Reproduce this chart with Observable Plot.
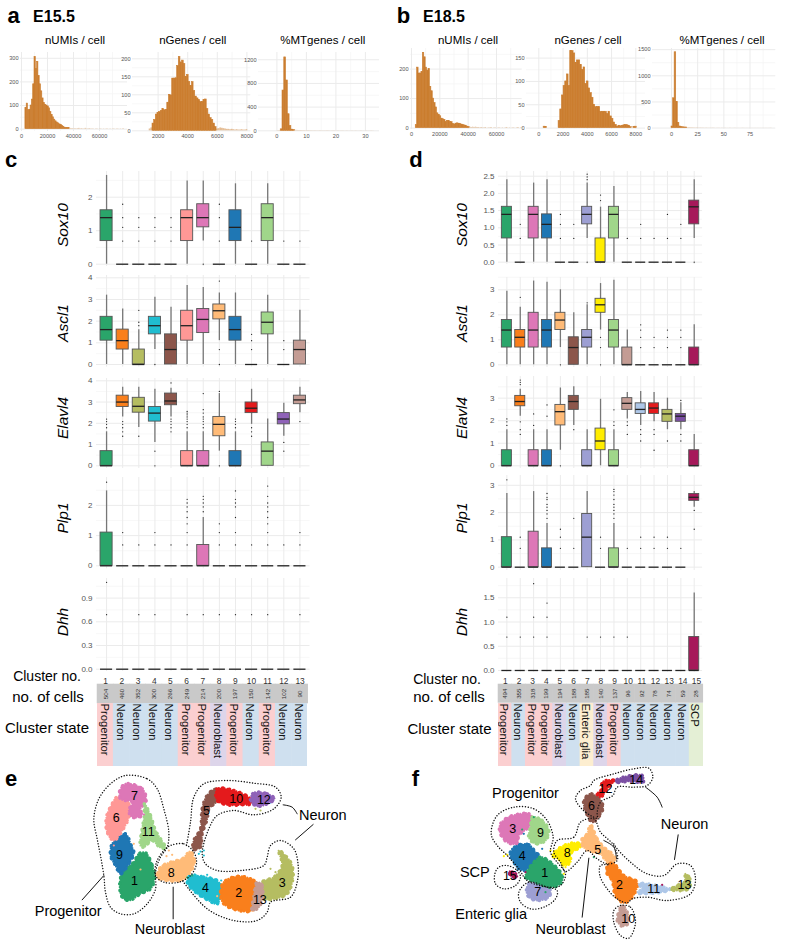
<!DOCTYPE html>
<html><head><meta charset="utf-8">
<script src="https://cdn.jsdelivr.net/npm/d3@7"></script>
<script src="https://cdn.jsdelivr.net/npm/@observablehq/plot@0.6"></script>
<style>
html,body{margin:0;padding:0;background:#fff}
#page{position:relative;width:800px;height:946px;overflow:hidden;font-family:"Liberation Sans",Arial,sans-serif;color:#000}
#page svg{position:absolute;background:transparent}
.lbl{position:absolute;white-space:nowrap;line-height:1}
</style></head><body><div id="page"></div>
<script>
// ---------- histogram values (panels a, b) ----------
const aUMI=[90,108,80,82,100,125,190,305,255,285,225,190,160,130,110,102,100,96,88,72,60,50,40,33,28,24,20,17,14,10,6,4,4,5,3,2,2,1,2,1,2,3,1,2,1,1,3,1,1,2,1,1,1,0,1,1,0,1,1,0,1,0,1,1,0,1,0,1,1,0,1,1,0,1,0,2];
const aGene=[5,8,20,30,45,50,52,55,60,57,58,78,100,98,145,145,146,180,205,190,195,185,150,155,135,125,135,110,95,90,85,80,80,85,87,60,45,35,30,20,10,5,6,8,7,6,5,4,4,3,4,3,2,3,2,2,3,2,2,3];
const aMT=[3,5,25,680,1240,850,280,80,20,15,8,6,5,5,4,4,3,4,3,3,2,3,2,2,3,2,2,2,3,2,1,2,2,1,2,1,2,2,1,2,1,1,2,1,2,1,1,2,1,1,2,1,1,2,1];
const bUMI=[10,205,185,185,190,255,240,205,195,200,140,125,100,85,70,50,45,40,32,30,28,20,24,24,20,20,14,12,15,16,15,14,12,10,9,8,5,4,3,2,3,2,3,2,2,1,2,1,1,2,0,1,1,2,0,1,1,0,1,1,0,1,0,1,2,0,1,0,1,1,0,1,2,0,1,1];
const bGene=[3,2,0,0,0,0,0,0,0,15,40,70,90,100,115,90,165,165,160,140,145,145,135,125,130,95,100,85,75,65,50,45,45,45,35,35,35,35,30,35,25,20,12,7,3,5,4,5,6,7,6,5,2,0,2,3,0];
const bMT=[30,570,1450,500,100,30,20,15,12,10,8,8,6,6,5,4,5,3,4,3,3,2,3,2,2,2,3,2,1,2,2,1,2,1,2,1,1,2,1,1,2,1,1,1,1,2,1,1,1,1,1,1,1,1,1,1,1,1,1,1,1,1,1,2];

// ---------- cluster tables ----------
const cCluster=[1,2,3,4,5,6,7,8,9,10,11,12,13];
const cCells=[504,460,352,300,266,249,214,200,197,150,142,102,90];
const cState=["Progenitor","Neuron","Neuron","Neuron","Neuron","Progenitor","Progenitor","Neuroblast","Progenitor","Neuron","Progenitor","Neuron","Neuron"];
const cColors=["#2aa56a","#f97f1c","#b5bd61","#20bdd0","#8c564b","#ff9896","#dd77b7","#ffbb78","#1f77b4","#e41a1c","#a0d68a","#8f62b8","#c49c94"];
const dCluster=[1,2,3,4,5,6,7,8,9,10,11,12,13,14,15];
const dCells=[494,355,318,199,194,188,185,140,137,96,92,78,74,59,28];
const dState=["Progenitor","Neuron","Progenitor","Progenitor","Neuroblast","Neuron","Enteric glia","Neuroblast","Progenitor","Neuron","Neuron","Neuron","Neuron","Neuron","SCP"];
const dColors=["#2aa56a","#f97f1c","#dd77b7","#1f77b4","#ffbb78","#8c564b","#9d9fd3","#ffed00","#a0d68a","#c49c94","#aec7e8","#e41a1c","#b5bd61","#7b4fa3","#a6195a"];
const stateFill={Progenitor:"#fbcfd0",Neuron:"#cfe0ef",Neuroblast:"#ddd5ea","Enteric glia":"#fdeed0",SCP:"#e4efd5"};

// ---------- box statistics: [low whisker, q1, median, q3, high whisker, [outliers]] ----------
const Z=[0,0,0,0,0];
const cSox10=[[0,.69,1.39,1.61,2.65,[]],[...Z,[.69,1.1,1.39,1.79]],[...Z,[.69,1.1,1.39]],[...Z,[.69,1.1,1.39]],[...Z,[.69,1.1,1.39]],[0,.69,1.39,1.61,2.48,[]],[.69,1.1,1.39,1.79,2.48,[0]],[...Z,[.69,1.39,1.79]],[0,.69,1.1,1.61,2.4,[]],[...Z,[.69]],[0,.69,1.39,1.79,2.4,[]],[...Z,[.69]],[...Z,[.69]]];
const cAscl1=[[0,1.1,1.61,2.2,3.2,[]],[0,.69,1.1,1.61,2.56,[]],[0,0,0,.69,1.6,[1.79,1.95,2.5]],[.69,1.39,1.79,2.2,3.1,[0]],[0,0,.69,1.39,2.64,[]],[0,1.1,1.79,2.48,3.64,[]],[0,1.45,2.08,2.56,3.55,[]],[1.1,2.08,2.48,2.77,3.3,[0,.69,3.85]],[0,1.1,1.61,2.2,3.3,[]],[...Z,[.69,1.1,1.39]],[0,1.39,1.95,2.4,3.2,[]],[...Z,[.69,1.1]],[0,0,.69,1.1,2.5,[]]];
const cElavl4=[[0,0,0,.69,1.6,[1.79,1.95,2.08,2.2]],[2.3,2.77,3,3.3,3.7,[1.39,1.6,1.79,1.95,2.08]],[1.8,2.5,2.8,3.2,3.7,[1.39]],[1.1,2.08,2.48,2.77,3.6,[0,.69]],[2.3,2.85,3.05,3.4,3.65,[1.6,1.79,1.95,2.08,2.2,3.9]],[0,0,0,.69,1.6,[1.79,1.95,2.08,2.2,2.3,2.4,2.48,2.56]],[0,0,0,.69,1.6,[1.79,1.95,2.08,2.2,2.3,2.48,2.64,3.4]],[.69,1.39,1.95,2.3,3.4,[0,3.5]],[0,0,0,.69,1.6,[1.79,1.95,2.08,2.2]],[1.95,2.48,2.71,2.98,3.6,[1.39,1.6,1.79]],[0,0,.69,1.1,2.2,[]],[1.39,1.95,2.2,2.48,2.94,[.69,1.1]],[2.5,2.9,3.1,3.3,3.7,[2.08]]];
const cPlp1=[[0,0,0,1.1,2.48,[2.77]],[...Z,[.69,1.1]],[...Z,[.69]],[...Z,[.69,1.1]],[...Z,[.69]],[...Z,[.69,1.1,1.39,1.6,1.79,1.95,2.08,2.2]],[0,0,0,.69,1.6,[1.79,1.95,2.08,2.2,2.3]],[...Z,[.69,1.1,1.39]],[...Z,[.69,1.1,1.6,1.95,2.08,2.2,2.48]],[...Z,[.69]],[...Z,[.69,1.1,1.39,1.6,1.79,1.95,2.08,2.3,2.64]],[...Z,[.69]],[...Z,[.69,1.1]]];
const cDhh=[[...Z,[.69,1.1]],[...Z,[]],[...Z,[.69]],[...Z,[.69]],[...Z,[]],[...Z,[.69]],[...Z,[.69]],[...Z,[.69]],[...Z,[.69]],[...Z,[.69]],[...Z,[.69]],[...Z,[]],[...Z,[.69]]];
const dSox10=[[0,.69,1.39,1.61,2.4,[]],[...Z,[.69,1.1]],[0,.69,1.39,1.61,2.3,[]],[0,.69,1.1,1.39,2.4,[]],[...Z,[.69,1.1,1.39]],[...Z,[.69,1.1]],[.69,1.1,1.39,1.61,2.3,[0,2.4,2.48,2.56]],[0,0,0,.69,1.6,[1.79,1.95]],[0,.69,1.39,1.61,2.2,[]],[...Z,[.69]],[...Z,[.69,1.1]],[...Z,[.69]],[...Z,[.69,1.39]],[...Z,[.69,1.1]],[.69,1.1,1.61,1.79,2.4,[0]]];
const dAscl1=[[0,.69,1.39,1.79,2.94,[]],[0,.69,1.1,1.39,2.3,[2.7]],[0,.69,1.39,2.08,3.35,[]],[0,.69,1.39,1.79,3.3,[]],[.69,1.39,1.79,2.08,3,[0]],[0,0,.69,1.1,2.08,[]],[0,.69,1.1,1.39,2.4,[2.48]],[1.39,2.08,2.4,2.64,3.25,[0,.69,1.1]],[0,.69,1.39,1.79,3.38,[]],[0,0,0,.69,1.39,[]],[...Z,[.69,1.1,1.39,1.6]],[...Z,[.69,1.1]],[...Z,[.69,1.1,1.39]],[...Z,[.69,1.1,1.39]],[0,0,0,.69,1.6,[]]];
const dElavl4=[[0,0,0,.69,1.6,[1.79,1.95,2.08]],[2.2,2.64,2.85,3.1,3.4,[1.39,1.6,1.95,3.6,3.7,3.8]],[0,0,0,.69,1.6,[1.79,2.3]],[0,0,0,.69,1.6,[2.2,2.7]],[.69,1.79,2.4,2.7,3.45,[0]],[1.79,2.48,2.85,3.1,3.5,[1.6]],[0,0,0,.69,1.6,[]],[0,.69,1.1,1.65,2.95,[]],[0,0,0,.69,1.6,[1.79,1.95,2.48]],[2.08,2.48,2.77,3,3.25,[1.39,1.79,1.95]],[1.79,2.3,2.5,2.77,3.3,[1.1,1.39,1.6]],[1.95,2.3,2.56,2.77,3.25,[.69,1.39,1.6]],[1.6,1.95,2.3,2.48,3,[1.1]],[1.6,1.95,2.2,2.3,2.8,[1.1,1.39,2.9]],[0,0,0,.69,1.39,[]]];
const dPlp1=[[0,0,0,1.1,2.7,[3.2]],[...Z,[.69,1.1]],[0,0,0,1.3,2.77,[]],[0,0,0,.69,1.6,[1.79,1.95,2.08,2.2,2.3,2.48,2.56,2.7]],[...Z,[.69,1.1,1.39]],[...Z,[.69,1.79]],[0,0,1.1,1.95,2.77,[]],[...Z,[.69,1.1]],[0,0,0,.69,1.6,[1.79,1.95,2.08,2.2,2.3,2.48,2.64,2.77,2.85]],[...Z,[.69]],[...Z,[.69,1.1]],[...Z,[.69,1.1]],[...Z,[.69,1.1]],[...Z,[.69]],[2.2,2.43,2.56,2.68,2.77,[1.39,2.08]]];
const dDhh=[[...Z,[.69,1.1]],[...Z,[.69]],[...Z,[.69,1.1,1.79]],[...Z,[.69,1.1,1.39]],[...Z,[]],[...Z,[]],[...Z,[.69]],[...Z,[.69]],[...Z,[.69]],[...Z,[.69]],[...Z,[]],[...Z,[]],[...Z,[]],[...Z,[]],[0,0,0,.69,1.6,[]]];

// ---------- UMAP regions (panel e) ----------
const eBlobs=[
 [1,[[435,262],[455,300],[462,340],[450,370],[420,385],[385,405],[365,395],[358,350],[370,315],[400,290],[415,265]]],
 [9,[[375,205],[392,240],[400,262],[385,295],[360,325],[345,300],[330,270],[335,235],[355,215]]],
 [6,[[350,95],[385,115],[385,155],[365,195],[340,225],[320,200],[318,155],[335,115]]],
 [7,[[375,55],[425,70],[437,105],[420,130],[425,150],[395,155],[385,135],[395,110],[360,100],[358,75]]],
 [11,[[432,115],[450,150],[465,195],[495,248],[478,245],[455,225],[430,245],[420,240],[425,190],[432,150]]],
 [8,[[570,258],[582,290],[565,325],[540,345],[500,345],[470,335],[480,305],[510,290],[545,280]]],
 [4,[[570,330],[610,335],[650,345],[662,370],[650,415],[625,405],[585,380],[560,350]]],
 [2,[[715,332],[760,345],[775,360],[770,400],[755,435],[715,435],[670,415],[660,385],[670,350]]],
 [3,[[835,255],[870,290],[878,330],[860,385],[820,400],[790,400],[785,350],[820,335],[845,300]]],
 [13,[[770,350],[785,360],[785,400],[775,425],[755,435],[760,395]]],
 [5,[[645,70],[650,105],[625,130],[620,160],[605,205],[600,245],[578,252],[580,225],[600,190],[605,130],[620,90]]],
 [10,[[650,70],[700,75],[750,100],[750,115],[720,118],[680,118],[650,105]]],
 [12,[[760,82],[800,85],[822,100],[800,115],[770,122],[750,105]]]
];
const eStray=[[400,235,8],[420,312,8],[600,258,4],[610,255,4],[595,265,4],[610,270,4],[505,255,8],[498,272,8],[515,268,8],[490,245,11],[575,330,1],[560,336,1],[620,328,4],[662,345,4],[765,130,3],[780,135,3],[810,310,3],[825,320,3],[832,335,3],[650,392,8],[430,147,7],[340,240,6]];
const eNumbers=[[7,402,92],[6,347,158],[11,443,200],[9,357,267],[1,402,347],[8,512,322],[4,615,367],[2,715,383],[13,778,403],[3,845,352],[5,618,135],[10,707,100],[12,790,102]];
const eContours=[
 {closed:1,p:[[375,30],[440,40],[470,70],[490,130],[505,200],[500,245],[480,275],[465,320],[465,370],[440,415],[400,445],[360,445],[330,425],[315,380],[310,330],[300,270],[290,220],[280,160],[295,100],[330,55]]},
 {closed:1,p:[[510,240],[550,235],[580,260],[588,295],[570,330],[535,350],[490,350],[465,330],[468,290],[490,255]]},
 {closed:0,p:[[547,347],[620,430],[700,465],[770,465],[800,440],[810,410],[870,395],[890,350],[893,300],[880,250],[840,225],[810,240],[800,275],[790,300],[720,315],[650,315],[615,295],[605,265],[625,190],[650,150],[700,135],[760,148],[820,130],[842,95],[825,65],[760,53],[680,45],[610,55],[580,95],[570,170],[558,240]]}
];
const eLeaders=[[[310,330],[245,403]],[[518,365],[518,460]],[[848,118],[875,125],[890,145]],[[938,177],[885,223]]];
const eLabels=[["Progenitor",203,437],["Neuroblast",508,493],["Neuron",967,150]];

// ---------- UMAP regions (panel f) ----------
const fBlobs=[
 [3,[[345,148],[385,145],[398,170],[385,185],[355,210],[350,235],[320,230],[300,205],[298,180],[315,160]]],
 [9,[[395,155],[425,165],[445,195],[435,225],[405,235],[385,215],[390,185]]],
 [4,[[350,240],[385,238],[405,260],[420,275],[395,295],[375,315],[355,310],[335,280],[328,265]]],
 [7,[[385,355],[430,362],[450,372],[445,395],[410,405],[385,395],[378,375]]],
 [1,[[420,275],[450,290],[485,330],[480,355],[450,365],[405,350],[375,335],[385,310],[400,290]]],
 [15,[[325,318],[345,325],[350,335],[335,335]]],
 [8,[[530,232],[545,240],[510,265],[510,290],[490,300],[475,280],[455,270],[490,240]]],
 [5,[[570,178],[590,220],[610,245],[635,265],[645,285],[625,295],[600,265],[565,255],[545,240],[545,220],[560,205]]],
 [6,[[570,85],[595,100],[608,125],[590,160],[575,170],[555,135],[550,105]]],
 [12,[[605,50],[640,45],[620,70],[600,95],[590,85],[605,70]]],
 [14,[[650,42],[725,30],[728,50],[690,47],[645,50]]],
 [2,[[640,295],[670,330],[710,350],[695,395],[670,412],[645,390],[635,345],[618,320],[625,295]]],
 [10,[[665,420],[680,440],[682,475],[665,482],[650,465],[655,440]]],
 [11,[[715,355],[790,365],[810,372],[770,382],[710,382],[725,370]]],
 [13,[[855,325],[868,340],[865,370],[810,372],[830,360],[852,350]]]
];
const fStray=[[310,272,8],[320,268,8],[370,205,4],[365,192,1],[450,255,8],[465,262,8],[490,325,8],[495,305,8],[435,380,1],[425,250,4],[580,275,1],[785,358,15],[400,155,1],[335,250,4],[375,320,15],[440,350,1]];
const fNumbers=[[3,337,190],[9,420,202],[4,365,272],[1,433,323],[7,412,380],[15,328,332],[8,500,263],[5,592,252],[6,573,122],[12,615,70],[14,707,43],[2,657,357],[11,760,370],[13,852,358],[10,683,460]];
const fContours=[
 {closed:1,p:[[340,125],[400,130],[440,165],[458,215],[450,260],[470,290],[495,325],[480,360],[445,365],[380,345],[355,310],[320,270],[290,240],[272,205],[290,150]]},
 {closed:1,p:[[320,300],[350,315],[360,335],[345,360],[310,370],[285,355],[283,325],[295,305]]},
 {closed:1,p:[[385,350],[440,365],[470,375],[465,400],[430,425],[390,430],[360,410],[355,380]]},
 {closed:1,p:[[470,225],[520,215],[540,170],[580,160],[600,200],[640,240],[650,285],[620,295],[590,280],[560,255],[530,290],[495,318],[480,290],[460,260]]},
 {closed:1,p:[[595,160],[555,140],[525,100],[540,75],[570,60],[580,45],[640,25],[700,10],[745,8],[757,35],[740,60],[700,65],[650,65],[637,90],[600,110],[590,150]]},
 {closed:0,p:[[640,235],[650,250],[690,290],[740,325],[790,330],[830,295],[870,300],[885,340],[870,385],[800,405],[740,395],[695,400],[680,412],[650,400],[620,370],[598,330],[600,300],[625,298]]},
 {closed:1,p:[[660,420],[690,425],[705,470],[685,518],[660,510],[640,470],[640,435]]}
];
const fLeaders=[[[735,65],[770,95],[785,125]],[[833,208],[822,282]],[[565,278],[545,455]],[[610,225],[640,245],[648,280]]];
const fLabels=[["Progenitor",375,83],["Neuron",852,178],["SCP",223,320],["Enteric glia",272,447],["Neuroblast",510,492]];

// ---------- layout (pixel boxes and scale anchors) ----------
const page=document.getElementById("page");
const FONT='"Liberation Sans",Arial,sans-serif';
function place(svg,left,top){svg.style.left=left+"px";svg.style.top=top+"px";page.appendChild(svg);}
function label(text,x,y,size,opt={}){
  const d=document.createElement("div");d.className="lbl";d.textContent=text;
  d.style.left=x+"px";d.style.top=y+"px";d.style.fontSize=size+"px";
  if(opt.weight)d.style.fontWeight=opt.weight;
  if(opt.italic)d.style.fontStyle="italic";
  d.style.transform=`translate(-50%,-50%)${opt.rotate?` rotate(${opt.rotate}deg)`:""}`;
  page.appendChild(d);
}
const GRID="#ebebeb",MINOR="#f3f3f3",TICK="#555";
const plain=d3.format("d");

function hist(b,start,width,counts,xt,xm,yt,ym){
  const ml=20,mr=6,mt=3,mb=13;
  const data=counts.map((n,i)=>({x1:start+i*width,x2:start+(i+1)*width,n}));
  const big=data.filter(d=>d.n>=b.faint),small=data.filter(d=>d.n>0&&d.n<b.faint);
  const svg=Plot.plot({
    width:b.R-b.L+ml+mr,height:b.B-b.T+mt+mb,marginLeft:ml,marginRight:mr,marginTop:mt,marginBottom:mb,
    style:{fontFamily:FONT,background:"transparent"},
    x:{domain:[(b.L-b.x0)/b.xk,(b.R-b.x0)/b.xk],axis:null},
    y:{domain:[(b.y0-b.B)/b.yk,(b.y0-b.T)/b.yk],axis:null},
    marks:[
      Plot.gridX(xm,{stroke:MINOR,strokeOpacity:1,strokeWidth:.7}),
      Plot.gridY(ym,{stroke:MINOR,strokeOpacity:1,strokeWidth:.7}),
      Plot.gridX(xt,{stroke:GRID,strokeOpacity:1}),
      Plot.gridY(yt,{stroke:GRID,strokeOpacity:1}),
      Plot.rectY(small,{x1:"x1",x2:"x2",y1:0,y2:"n",fill:"#cb7e30",fillOpacity:.5}),
      Plot.rectY(big,{x1:"x1",x2:"x2",y1:0,y2:"n",fill:"#cb7e30",stroke:"#cb7e30",strokeWidth:.6}),
      Plot.axisX(xt,{tickSize:0,tickPadding:3,fontSize:5.6,fill:TICK,label:null,anchor:"bottom",tickFormat:plain}),
      Plot.axisY(yt,{tickSize:0,tickPadding:2,fontSize:5.6,fill:TICK,label:null,anchor:"left",tickFormat:plain})
    ]});
  place(svg,b.L-ml,b.T-mt);
}

function boxes(b,clusters,colors,rowsIn,yt,ym,fmt){
  const ml=30,mr=4,mt=2,mb=4;
  const rows=rowsIn.map((r,i)=>({c:clusters[i],lo:r[0],q1:r[1],med:r[2],q3:r[3],hi:r[4],col:colors[i]}));
  const out=rowsIn.flatMap((r,i)=>r[5].map(v=>({c:clusters[i],v})));
  const svg=Plot.plot({
    width:b.r1-b.r0+ml+mr,height:b.B-b.T+mt+mb,marginLeft:ml,marginRight:mr,marginTop:mt,marginBottom:mb,
    style:{fontFamily:FONT,background:"transparent"},
    x:{type:"band",domain:clusters,padding:.25,round:false,axis:null},
    y:{domain:[(b.y0-b.B)/b.yk,(b.y0-b.T)/b.yk],axis:null},
    color:{type:"identity"},
    marks:[
      Plot.gridY(ym,{stroke:MINOR,strokeOpacity:1,strokeWidth:.7}),
      Plot.gridY(yt,{stroke:GRID,strokeOpacity:1}),
      Plot.gridX(clusters,{stroke:GRID,strokeOpacity:1}),
      Plot.axisY(yt,{tickSize:0,tickPadding:4,fontSize:8,fill:TICK,label:null,anchor:"left",tickFormat:fmt}),
      Plot.ruleX(rows,{x:"c",y1:"lo",y2:"hi",stroke:"#777",strokeWidth:1.3}),
      Plot.barY(rows.filter(r=>r.q3>r.q1),{x:"c",y1:"q1",y2:"q3",fill:"col",stroke:"#555",strokeWidth:.9}),
      Plot.tickY(rows,{x:"c",y:"med",stroke:"#222",strokeWidth:1.3}),
      Plot.dot(out,{x:"c",y:"v",r:.65,fill:"#222",stroke:"none"})
    ]});
  place(svg,b.r0-ml,b.T-mt);
}

function strips(clusters,cells,states,s){
  const rows=clusters.map((c,i)=>({c,n:cells[i],st:states[i],fill:stateFill[states[i]]}));
  const band={type:"band",domain:clusters,padding:0,round:false};
  place(Plot.plot({
    width:s.R-s.L,height:s.midY-s.topY+14,marginLeft:0,marginRight:0,marginTop:14,marginBottom:0,
    style:{fontFamily:FONT,background:"transparent",overflow:"visible"},
    x:{...band,axis:null},
    marks:[
      Plot.cell(rows,{x:"c",fill:"#c9c9c9",inset:-.3}),
      Plot.axisX(clusters,{anchor:"top",tickSize:0,tickPadding:0,fontSize:8.4,fill:"#333",label:null}),
      Plot.text(rows,{x:"c",frameAnchor:"middle",text:d=>String(d.n),rotate:-90,fontSize:6.2,fill:"#333"})
    ]}),s.L,s.topY-14);
  place(Plot.plot({
    width:s.R-s.L,height:s.botY-s.midY,marginLeft:0,marginRight:0,marginTop:0,marginBottom:0,
    style:{fontFamily:FONT,background:"transparent"},
    x:{...band,axis:null},color:{type:"identity"},
    marks:[
      Plot.cell(rows,{x:"c",fill:"fill",inset:-.3}),
      Plot.text(rows,{x:"c",frameAnchor:"top",dx:3,text:"st",rotate:90,textAnchor:"start",fontSize:11.3,fill:"#111"})
    ]}),s.L,s.midY);
}

function umap(left,top,blobs,colors,stray,numbers,contours,leaders,labels){
  const W=370,H=181;
  const pts=p=>p.map(([x,y])=>({x,y}));
  const marks=[];
  for(const [id,p] of blobs){
    const col=colors[id-1];
    marks.push(Plot.line(pts(p),{x:"x",y:"y",curve:"catmull-rom-closed",fill:col,stroke:"none"}));
    marks.push(Plot.line(pts(p),{x:"x",y:"y",curve:"catmull-rom-closed",stroke:col,strokeWidth:2.1,strokeDasharray:"0.1 2.7",strokeLinecap:"round"}));
    marks.push(Plot.line(pts(p),{x:"x",y:"y",curve:"catmull-rom-closed",stroke:col,strokeWidth:3.6,strokeDasharray:"0.1 6.3",strokeLinecap:"round"}));
  }
  marks.push(Plot.dot(stray,{x:d=>d[0],y:d=>d[1],r:1.1,fill:d=>colors[d[2]-1],stroke:"none"}));
  for(const c of contours)
    marks.push(Plot.line(pts(c.p),{x:"x",y:"y",curve:c.closed?"catmull-rom-closed":"catmull-rom",stroke:"#111",strokeWidth:1.4,strokeDasharray:"0.1 2.7",strokeLinecap:"round"}));
  for(const l of leaders)
    marks.push(Plot.line(pts(l),{x:"x",y:"y",curve:"catmull-rom",stroke:"#111",strokeWidth:1}));
  marks.push(Plot.text(numbers,{x:d=>d[1],y:d=>d[2],text:d=>String(d[0]),fontSize:12.5,fill:"#000"}));
  marks.push(Plot.text(labels,{x:d=>d[1],y:d=>d[2],text:d=>d[0],fontSize:14.5,fill:"#000"}));
  place(Plot.plot({
    width:W,height:H,margin:0,
    style:{fontFamily:FONT,background:"transparent"},
    x:{domain:[0,W*3],axis:null},y:{domain:[H*3,0],axis:null},color:{type:"identity"},marks
  }),left,top);
}

// panel letters and titles
label("a",13.7,15.6,22,{weight:"bold"});label("E15.5",54,17,16,{weight:"bold"});
label("b",403.5,15.6,22,{weight:"bold"});label("E18.5",444,17,16,{weight:"bold"});
label("c",11,160,22,{weight:"bold"});label("d",416,160,22,{weight:"bold"});
label("e",11,779,22,{weight:"bold"});label("f",415.5,779,22,{weight:"bold"});
[["nUMIs / cell",75,41],["nGenes / cell",192.7,41],["%MTgenes / cell",322.8,41],["nUMIs / cell",468,41],["nGenes / cell",588,41],["%MTgenes / cell",722,41]]
  .forEach(([t,x,y])=>label(t,x,y,11.5));

// histograms
const k0=[0,20000,40000,60000],m0=[10000,30000,50000,70000];
hist({L:20,R:127,T:51.7,B:130.7,x0:21,xk:1.3/1000,y0:128.3,yk:.236,faint:4},3000,1000,aUMI,k0,m0,[0,100,200,300],[50,150,250]);
hist({L:131.7,R:250,T:51.7,B:130.7,x0:127.7,xk:14.8/1000,y0:130,yk:.36,faint:9},1400,111,aGene,[2000,4000,6000,8000],[3000,5000,7000],[0,50,100,150,200],[25,75,125,175]);
hist({L:258.3,R:379.3,T:51.7,B:130.7,x0:276.7,xk:2.95,y0:130,yk:.0592,faint:10},.1,.6,aMT,[0,10,20,30],[5,15,25],[0,400,800,1200],[200,600,1000]);
hist({L:410,R:521.7,T:47.7,B:128.7,x0:411,xk:1.417/1000,y0:127.3,yk:.295,faint:4},3000,1000,bUMI,k0,m0,[0,100,200],[50,150,250]);
hist({L:526,R:645,T:47.7,B:128.7,x0:538.3,xk:12.13/1000,y0:127.3,yk:.4667,faint:2},400,137,bGene,[0,2000,4000,6000,8000],[1000,3000,5000,7000],[0,50,100,150],[25,75,125]);
hist({L:651.7,R:775,T:47.7,B:128.7,x0:670.7,xk:1.047,y0:127.3,yk:.0523,faint:10},0,1.5,bMT,[0,25,50,75],[12.5,37.5,62.5,87.5],[0,500,1000,1500],[250,750,1250]);

// box plots
const cx={r0:95.9,r1:309.4},dx={r0:498.3,r1:702.4};
const f1=d3.format(".1f");
boxes({...cx,T:171,B:266,y0:263.7,yk:33.5},cCluster,cColors,cSox10,[0,1,2],[.5,1.5,2.5]);
boxes({...cx,T:275,B:366.7,y0:364,yk:21.67},cCluster,cColors,cAscl1,[0,1,2,3,4],[.5,1.5,2.5,3.5]);
boxes({...cx,T:378,B:468,y0:465.3,yk:21.25},cCluster,cColors,cElavl4,[0,1,2,3,4],[.5,1.5,2.5,3.5]);
boxes({...cx,T:476.7,B:568,y0:565,yk:30.2},cCluster,cColors,cPlp1,[0,1,2],[.5,1.5,2.5]);
boxes({...cx,T:578,B:671,y0:668.7,yk:79},cCluster,cColors,cDhh,[0,.3,.6,.9],[.15,.45,.75,1.05],f1);
boxes({...dx,T:171,B:264,y0:261.7,yk:34.4},dCluster,dColors,dSox10,[0,.5,1,1.5,2,2.5],[.25,.75,1.25,1.75,2.25],f1);
boxes({...dx,T:276.7,B:366.7,y0:364,yk:25},dCluster,dColors,dAscl1,[0,1,2,3],[.5,1.5,2.5,3.5]);
boxes({...dx,T:376,B:468,y0:465.3,yk:22.55},dCluster,dColors,dElavl4,[0,1,2,3],[.5,1.5,2.5,3.5]);
boxes({...dx,T:475,B:570,y0:566.7,yk:27.3},dCluster,dColors,dPlp1,[0,1,2,3],[.5,1.5,2.5]);
boxes({...dx,T:578,B:672,y0:670,yk:48.5},dCluster,dColors,dDhh,[0,.5,1,1.5],[.25,.75,1.25,1.75],f1);

// gene labels
[["Sox10",225],["Ascl1",322.5],["Elavl4",418],["Plp1",518],["Dhh",622]].forEach(([g,y])=>{
  label(g,63,y,15.5,{italic:true,rotate:-90});
  label(g,461.5,y,15.5,{italic:true,rotate:-90});
});

// cluster tables
strips(cCluster,cCells,cState,{L:96.7,R:307.4,topY:684.3,midY:703.3,botY:766});
strips(dCluster,dCells,dState,{L:498.2,R:703,topY:684.3,midY:702.7,botY:766});
[[47,676,"Cluster no.",14],[48,696,"no. of cells",15],[47,727,"Cluster state",15],[447,679,"Cluster no.",14],[449,696,"no. of cells",15],[449.5,727.7,"Cluster state",15]]
  .forEach(([x,y,t,s])=>label(t,x,y,s));

// UMAPs
umap(0,765,eBlobs,cColors,eStray,eNumbers,eContours,eLeaders,eLabels);
umap(400,765,fBlobs,dColors,fStray,fNumbers,fContours,fLeaders,fLabels);
</script></body></html>
